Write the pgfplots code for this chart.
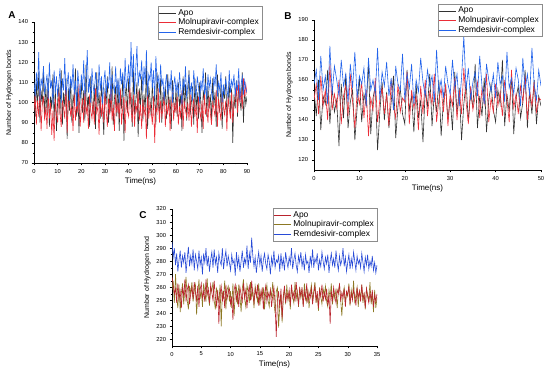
\documentclass[border=0pt]{standalone}
\usepackage{pgfplots}
\pgfplotsset{compat=1.18}
\usepackage{pgfplotstable}
\usepackage{fontspec}
\setmainfont{Liberation Sans}
\definecolor{apoc}{RGB}{50,50,50}
\definecolor{molc}{RGB}{235,45,55}
\definecolor{remc}{RGB}{35,100,235}
\definecolor{apoCC}{RGB}{185,35,45}
\definecolor{molCC}{RGB}{140,120,35}
\definecolor{remCC}{RGB}{40,75,215}

\pgfplotstableread{
x apo mol rem
0 104 96 110
0.5 93 104 103
1 110 89 115
1.5 97 101 106
2 115 93 125
2.5 90 107 101
3 106 86 112
3.5 99 99 108
4 118 103 118
4.5 92 91 104
5 108 98 109
5.5 95 87 114
6 112 105 102
6.5 88 92 120
7 103 100 107
7.5 97 84 111
8 114 96 99
8.5 91 81 116
9 107 102 105
9.5 86 94 113
10 101 90 103
10.5 109 106 110
11 94 95 117
11.5 116 88 100
12 89 101 112
12.5 105 97 106
13 98 92 122
13.5 112 108 104
14 82 85 109
14.5 107 99 115
15 96 103 101
15.5 111 93 113
16 90 98 107
16.5 104 86 119
17 99 105 104
17.5 117 91 111
18 93 100 98
18.5 108 95 116
19 85 109 108
19.5 102 88 102
20 110 97 114
20.5 95 102 106
21 106 90 121
21.5 91 106 103
22 119 94 110
22.5 97 99 126
23 103 87 105
23.5 88 104 112
24 113 96 100
24.5 100 92 117
25 94 101 108
25.5 109 89 104
26 87 107 115
26.5 115 95 109
27 98 98 102
27.5 105 84 119
28 92 103 106
28.5 111 93 113
29 96 100 99
29.5 84 90 110
30 107 105 116
30.5 99 96 103
31 113 88 111
31.5 90 102 107
32 104 94 120
32.5 95 109 101
33 118 91 114
33.5 89 99 108
34 102 86 105
34.5 108 104 118
35 93 95 104
35.5 111 100 112
36 86 92 100
36.5 106 107 117
37 97 89 109
37.5 114 98 115
38 81 103 103
38.5 103 85 122
39 109 101 107
39.5 95 96 111
40 112 93 119
40.5 99 108 106
41 105 97 130
41.5 88 90 110
42 116 104 124
42.5 94 88 104
43 101 100 117
43.5 110 95 128
44 83 106 108
44.5 107 91 115
45 98 99 112
45.5 113 87 121
46 91 102 105
46.5 104 94 118
47 96 98 109
47.5 119 82 126
48 87 105 103
48.5 108 92 114
49 102 100 111
49.5 93 96 120
50 110 89 107
50.5 97 103 116
51 106 80 102
51.5 89 98 123
52 115 95 110
52.5 100 107 113
53 94 90 105
53.5 112 101 119
54 90 93 108
54.5 105 97 112
55 99 104 101
55.5 108 88 109
56 92 99 114
56.5 114 94 104
57 96 102 111
57.5 103 86 106
58 87 97 116
58.5 111 105 100
59 101 91 108
59.5 95 100 113
60 107 95 105
60.5 93 103 110
61 110 89 103
61.5 98 98 115
62 104 92 107
62.5 86 106 99
63 113 87 112
63.5 97 101 106
64 109 96 118
64.5 91 93 102
65 103 100 109
65.5 116 91 114
66 94 104 104
66.5 100 88 110
67 108 97 101
67.5 89 102 116
68 112 93 107
68.5 96 99 103
69 105 85 113
69.5 92 103 108
70 110 96 100
70.5 99 92 111
71 85 101 106
71.5 106 87 117
72 101 105 104
72.5 115 94 109
73 93 98 102
73.5 108 90 114
74 97 103 107
74.5 104 95 112
75 91 89 105
75.5 112 100 101
76 98 97 113
76.5 105 93 108
77 88 106 119
77.5 114 88 103
78 100 102 110
78.5 95 96 106
79 109 91 115
79.5 87 104 100
80 106 98 109
80.5 102 94 104
81 113 101 112
81.5 92 86 107
82 99 103 102
82.5 110 97 116
83 94 92 105
83.5 107 105 111
84 80 90 108
84.5 104 99 114
85 97 102 103
85.5 111 108 110
86 93 95 106
86.5 108 111 117
87 101 100 101
87.5 96 106 109
88 115 97 113
88.5 90 112 104
89 106 103 111
89.5 99 109 107
90 103 104 105
}\dataA

\pgfplotstableread{
x apo mol rem
0 155 150 158
0.5 142 158 165
1 160 143 150
1.5 135 162 172
2 152 147 155
2.5 148 155 162
3 165 140 148
3.5 138 168 177
4 156 145 153
4.5 144 153 167
5 150 146 160
5.5 127 160 152
6 158 138 170
6.5 141 152 157
7 163 157 163
7.5 136 142 149
8 149 163 168
8.5 155 149 156
9 130 136 174
9.5 146 154 151
10 161 148 162
10.5 139 159 158
11 153 141 166
11.5 147 155 147
12 168 132 171
12.5 133 151 155
13 151 145 160
13.5 157 161 153
14 125 139 176
14.5 144 150 150
15 159 156 164
15.5 140 143 157
16 154 153 169
16.5 136 137 152
17 149 160 161
17.5 162 147 145
18 131 141 167
18.5 147 158 158
19 156 144 155
19.5 143 151 173
20 138 149 150
20.5 165 164 163
21 145 138 156
21.5 152 155 168
22 134 146 148
22.5 158 152 160
23 141 135 154
23.5 150 157 171
24 129 143 159
24.5 155 160 152
25 147 142 165
25.5 163 154 157
26 137 148 162
26.5 153 163 149
27 144 139 175
27.5 160 150 154
28 132 156 160
28.5 149 144 151
29 157 158 167
29.5 140 137 158
30 151 153 153
30.5 135 147 170
31 164 161 156
31.5 143 140 163
32 156 155 147
32.5 130 143 161
33 148 166 182
33.5 159 149 155
34 139 138 166
34.5 154 157 150
35 146 145 159
35.5 168 152 164
36 136 159 152
36.5 152 141 172
37 142 156 157
37.5 161 148 148
38 134 163 168
38.5 150 139 160
39 158 151 154
39.5 145 144 163
40 139 158 151
40.5 155 147 169
41 148 154 158
41.5 170 142 162
42 137 160 149
42.5 153 150 174
43 144 139 156
43.5 162 165 161
44 133 146 153
44.5 151 153 166
45 157 143 160
45.5 141 157 147
46 149 149 171
46.5 165 162 155
47 136 140 163
47.5 154 155 152
48 143 147 176
48.5 160 159 158
49 138 144 150
49.5 152 151 165
50 147 150 157
}\dataB

\pgfplotstableread{
x apo mol rem
0 268 258 295
0.2 262 265 283
0.4 255 248 290
0.6 259 270 277
0.8 248 252 286
1 263 244 272
1.2 251 262 281
1.4 257 241 288
1.6 244 256 275
1.8 260 263 284
2 253 247 279
2.2 266 259 287
2.4 249 268 271
2.6 258 250 282
2.8 262 243 291
3 247 261 276
3.2 255 255 284
3.4 260 264 278
3.6 251 249 289
3.8 264 257 273
4 256 262 285
4.2 250 239 280
4.4 261 254 274
4.6 245 266 288
4.8 258 251 277
5 263 258 283
5.2 252 245 270
5.4 257 263 286
5.6 249 256 279
5.8 266 249 290
6 254 267 276
6.2 259 253 284
6.4 248 246 272
6.6 262 260 281
6.8 256 257 287
7 250 264 275
7.2 265 250 289
7.4 253 243 278
7.6 246 259 283
7.8 258 255 271
8 232 248 286
8.2 255 262 280
8.4 261 230 277
8.6 249 256 290
8.8 257 252 274
9 244 265 282
9.2 262 243 288
9.4 251 258 276
9.6 256 261 284
9.8 259 249 279
10 247 257 273
10.2 253 244 285
10.4 235 263 278
10.6 258 238 281
10.8 262 255 269
11 250 260 287
11.2 256 247 276
11.4 245 262 283
11.6 260 253 272
11.8 254 241 280
12 249 259 288
12.2 263 266 275
12.4 252 251 282
12.6 258 245 278
12.8 244 262 292
13 256 256 274
13.2 261 248 286
13.4 250 264 279
13.6 265 252 298
13.8 255 258 284
14 248 244 276
14.2 259 261 283
14.4 253 255 271
14.6 262 249 280
14.8 246 263 287
15 257 246 277
15.2 251 257 284
15.4 260 252 272
15.6 243 260 281
15.8 255 243 286
16 261 256 278
16.2 249 262 274
16.4 256 250 285
16.6 252 245 280
16.8 258 258 270
17 245 253 283
17.2 254 264 277
17.4 260 249 288
17.6 247 240 275
17.8 222 257 281
18 250 260 279
18.2 257 229 284
18.4 244 246 272
18.6 259 255 286
18.8 236 233 276
19 253 252 282
19.2 261 259 273
19.4 248 247 287
19.6 255 262 280
19.8 251 250 275
20 258 256 283
20.2 246 243 278
20.4 262 261 290
20.6 252 253 274
20.8 256 248 281
21 249 264 286
21.2 264 251 277
21.4 254 257 272
21.6 247 245 284
21.8 259 260 279
22 253 252 287
22.2 260 258 276
22.4 245 246 282
22.6 257 263 273
22.8 251 254 285
23 263 249 278
23.2 248 259 280
23.4 256 244 271
23.6 252 256 284
23.8 259 262 277
24 247 250 289
24.2 255 257 275
24.4 261 264 282
24.6 250 248 279
24.8 257 255 286
25 244 242 273
25.2 258 260 281
25.4 253 253 276
25.6 262 247 287
25.8 249 259 280
26 256 254 274
26.2 251 261 283
26.4 259 249 278
26.6 246 245 285
26.8 254 258 271
27 232 252 280
27.2 257 263 286
27.4 250 247 277
27.6 260 256 282
27.8 253 251 275
28 248 259 288
28.2 258 244 279
28.4 255 257 273
28.6 263 262 284
28.8 249 250 277
29 256 238 281
29.2 252 255 290
29.4 259 260 276
29.6 245 248 283
29.8 257 256 272
30 254 253 279
30.2 261 263 285
30.4 247 246 274
30.6 256 258 282
30.8 250 251 276
31 258 265 287
31.2 253 249 280
31.4 246 254 273
31.6 260 260 284
31.8 252 245 278
32 257 257 281
32.2 249 252 275
32.4 262 262 286
32.6 251 248 279
32.8 255 256 272
33 244 243 283
33.2 259 259 277
33.4 253 254 285
33.6 248 250 274
33.8 256 264 280
34 250 247 276
34.2 258 255 284
34.4 245 241 273
34.6 254 258 279
34.8 249 244 271
35 255 252 277
}\dataC

\pgfplotsset{
  hb/.style={
    scale only axis,
    anchor=south west,
    axis x line*=bottom,
    axis y line*=left,
    axis line style={line width=0.5pt},
    tick align=outside,
    tick style={black, line width=0.4pt},
    major tick length=2.5pt,
    minor tick length=1.5pt,
    minor x tick num=1,
    minor y tick num=1,
    ticklabel style={font=\fontsize{5.8}{6.5}\selectfont},
    /pgf/number format/assume math mode=true,
    xlabel style={font=\fontsize{8}{9}\selectfont, yshift=2pt},
    ylabel style={font=\fontsize{7}{8}\selectfont, yshift=-1pt},
    legend cell align=left,
    legend style={font=\fontsize{8.5}{9}\selectfont, draw=black!45, line width=0.3pt,
      inner sep=1pt, row sep=-2pt, anchor=north east},
    legend image code/.code={\draw[#1, line width=0.5pt] (0cm,0cm) -- (0.6cm,0cm);},
    every axis plot/.append style={line width=0.6pt},
  }
}

\begin{document}
\begin{tikzpicture}
\path[use as bounding box] (0bp,0bp) rectangle (550bp,375bp);

% Panel A
\begin{axis}[hb, at={(34bp,212bp)}, width=213bp, height=141bp,
  xmin=0, xmax=90, ymin=70, ymax=140,
  xtick={0,10,...,90}, ytick={70,80,...,140},
  xlabel={Time(ns)}, ylabel={Number of Hydrogen bonds},
  legend style={at={(axis description cs:1.07,1.113)}}]
\addplot[color=apoc] table[x=x, y=apo] {\dataA};
\addplot[color=molc] table[x=x, y=mol] {\dataA};
\addplot[color=remc] table[x=x, y=rem] {\dataA};
\legend{Apo, Molnupiravir-complex, Remdesivir-complex}
\end{axis}
\node[font=\fontsize{10}{11}\selectfont\bfseries] at (12bp,360bp) {A};

% Panel B
\begin{axis}[hb, at={(314bp,205bp)}, width=227bp, height=150bp,
  xmin=0, xmax=50, ymin=115, ymax=190,
  xtick={0,10,...,50}, ytick={120,130,...,190},
  xlabel={Time(ns)}, ylabel={Number of Hydrogen bonds},
  legend style={at={(axis description cs:1.004,1.107)}}]
\addplot[color=apoc] table[x=x, y=apo] {\dataB};
\addplot[color=molc] table[x=x, y=mol] {\dataB};
\addplot[color=remc] table[x=x, y=rem] {\dataB};
\legend{Apo, Molnupiravir-complex, Remdesivir-complex}
\end{axis}
\node[font=\fontsize{10}{11}\selectfont\bfseries] at (288bp,359bp) {B};

% Panel C
\begin{axis}[hb, at={(172bp,29bp)}, width=205bp, height=137bp,
  xmin=0, xmax=35, ymin=215, ymax=320,
  xtick={0,5,...,35}, ytick={220,230,...,320},
  xlabel={Time(ns)}, ylabel={Number of Hydrogen bond},
  legend style={at={(axis description cs:1.0,1.007)}}]
\addlegendimage{legend image code/.code={\draw[color=apoCC, line width=0.6pt] (0cm,0cm) -- (0.6cm,0cm);}}
\addlegendentry{Apo}
\addlegendimage{legend image code/.code={\draw[color=molCC, line width=0.6pt] (0cm,0cm) -- (0.6cm,0cm);}}
\addlegendentry{Molnupiravir-complex}
\addlegendimage{legend image code/.code={\draw[color=remCC, line width=0.6pt] (0cm,0cm) -- (0.6cm,0cm);}}
\addlegendentry{Remdesivir-complex}
\addplot[color=molCC, forget plot] table[x=x, y=mol] {\dataC};
\addplot[color=apoCC, forget plot] table[x=x, y=apo] {\dataC};
\addplot[color=remCC, forget plot] table[x=x, y=rem] {\dataC};
\end{axis}
\node[font=\fontsize{10}{11}\selectfont\bfseries] at (143bp,160bp) {C};
\end{tikzpicture}
\end{document}
